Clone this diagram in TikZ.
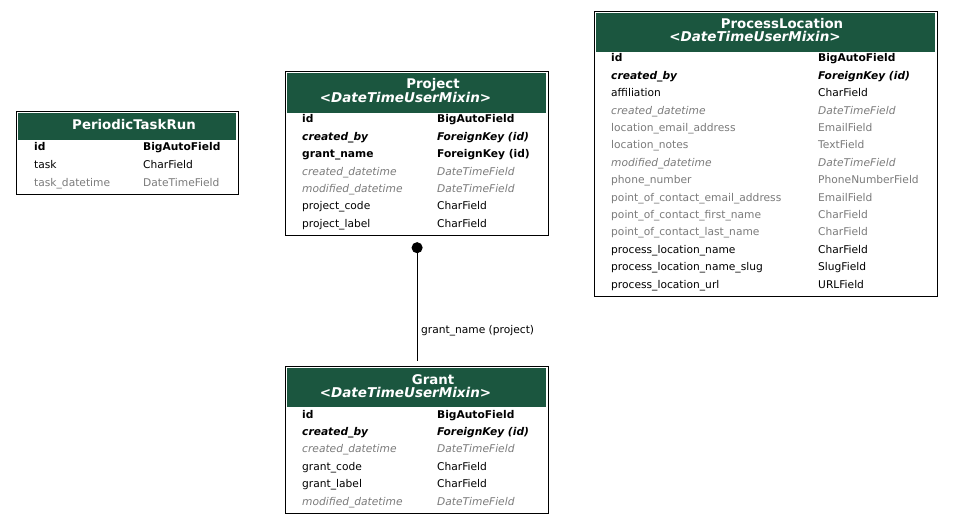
\documentclass[tikz,border=0pt]{standalone}
\usepackage{fontspec}
\setmainfont{DejaVu Sans}
\usetikzlibrary{arrows.meta}
\definecolor{hdgreen}{HTML}{1B563F}
\definecolor{inhgrey}{HTML}{7B7B7B}

\begin{document}
\begin{tikzpicture}
[every node/.style={inner sep=0pt},
 box/.style={draw=black, line width=1.2pt, fill=white, anchor=north west},
 head/.style={fill=hdgreen, anchor=north west},
 title/.style={text=white, font=\fontsize{13.33}{16}\selectfont\bfseries, anchor=base},
 mixin/.style={text=white, font=\fontsize{13.5}{16}\selectfont\bfseries\itshape, anchor=base},
 fld/.style={anchor=base west, font=\fontsize{10.67}{13}\selectfont},
 pk/.style={fld, font=\fontsize{10.67}{13}\selectfont\bfseries},
 fk/.style={fld, font=\fontsize{10.67}{13}\selectfont\bfseries\itshape},
 inh/.style={fld, text=inhgrey, font=\fontsize{10.67}{13}\selectfont\itshape},
 dim/.style={fld, text=inhgrey}]
\useasboundingbox (0pt, 0pt) rectangle (954pt, -524pt);

% PeriodicTaskRun
\node (ptr) [box, minimum width=222pt, minimum height=83pt] at (16pt, -111pt) {};
\node (ptr head) [head, minimum width=218pt, minimum height=27pt] at (18pt, -113pt) {};
\node (ptr title) [title] at (134pt, -130pt) {PeriodicTaskRun};
\node (ptr id) [pk] at (34pt, -151pt) {id};
\node (ptr id t) [pk] at (143pt, -151pt) {BigAutoField};
\node (ptr task) [fld] at (34pt, -168.5pt) {task};
\node (ptr task t) [fld] at (143pt, -168.5pt) {CharField};
\node (ptr dt) [dim] at (34pt, -186pt) {task\_datetime};
\node (ptr dt t) [dim] at (143pt, -186pt) {DateTimeField};

% Project
\node (project) [box, minimum width=263pt, minimum height=164pt] at (285pt, -71pt) {};
\node (project head) [head, minimum width=259pt, minimum height=40pt] at (287pt, -73pt) {};
\node (project title) [title] at (433pt, -89pt) {Project};
\node (project mixin) [mixin] at (405.5pt, -102.5pt) {<DateTimeUserMixin>};
\node (project id) [pk] at (302pt, -123pt) {id};
\node (project id t) [pk] at (437pt, -123pt) {BigAutoField};
\node (project cb) [fk] at (302pt, -140.4pt) {created\_by};
\node (project cb t) [fk] at (437pt, -140.4pt) {ForeignKey (id)};
\node (project gn) [pk] at (302pt, -157.8pt) {grant\_name};
\node (project gn t) [pk] at (437pt, -157.8pt) {ForeignKey (id)};
\node (project cd) [inh] at (302pt, -175.2pt) {created\_datetime};
\node (project cd t) [inh] at (437pt, -175.2pt) {DateTimeField};
\node (project md) [inh] at (302pt, -192.6pt) {modified\_datetime};
\node (project md t) [inh] at (437pt, -192.6pt) {DateTimeField};
\node (project pc) [fld] at (302pt, -210pt) {project\_code};
\node (project pc t) [fld] at (437pt, -210pt) {CharField};
\node (project pl) [fld] at (302pt, -227.4pt) {project\_label};
\node (project pl t) [fld] at (437pt, -227.4pt) {CharField};

% ProcessLocation
\node (ploc) [box, minimum width=343pt, minimum height=285pt] at (594pt, -11pt) {};
\node (ploc head) [head, minimum width=339pt, minimum height=39pt] at (596pt, -13pt) {};
\node (ploc title) [title] at (782pt, -28.5pt) {ProcessLocation};
\node (ploc mixin) [mixin] at (755pt, -42pt) {<DateTimeUserMixin>};
\node (ploc id) [pk] at (611pt, -62pt) {id};
\node (ploc id t) [pk] at (818pt, -62pt) {BigAutoField};
\node (ploc cb) [fk] at (611pt, -79.4pt) {created\_by};
\node (ploc cb t) [fk] at (818pt, -79.4pt) {ForeignKey (id)};
\node (ploc af) [fld] at (611pt, -96.8pt) {affiliation};
\node (ploc af t) [fld] at (818pt, -96.8pt) {CharField};
\node (ploc cd) [inh] at (611pt, -114.2pt) {created\_datetime};
\node (ploc cd t) [inh] at (818pt, -114.2pt) {DateTimeField};
\node (ploc le) [dim] at (611pt, -131.6pt) {location\_email\_address};
\node (ploc le t) [dim] at (818pt, -131.6pt) {EmailField};
\node (ploc ln) [dim] at (611pt, -149pt) {location\_notes};
\node (ploc ln t) [dim] at (818pt, -149pt) {TextField};
\node (ploc md) [inh] at (611pt, -166.4pt) {modified\_datetime};
\node (ploc md t) [inh] at (818pt, -166.4pt) {DateTimeField};
\node (ploc ph) [dim] at (611pt, -183.8pt) {phone\_number};
\node (ploc ph t) [dim] at (818pt, -183.8pt) {PhoneNumberField};
\node (ploc pe) [dim] at (611pt, -201.2pt) {point\_of\_contact\_email\_address};
\node (ploc pe t) [dim] at (818pt, -201.2pt) {EmailField};
\node (ploc pf) [dim] at (611pt, -218.6pt) {point\_of\_contact\_first\_name};
\node (ploc pf t) [dim] at (818pt, -218.6pt) {CharField};
\node (ploc plast) [dim] at (611pt, -236pt) {point\_of\_contact\_last\_name};
\node (ploc plast t) [dim] at (818pt, -236pt) {CharField};
\node (ploc pn) [fld] at (611pt, -253.4pt) {process\_location\_name};
\node (ploc pn t) [fld] at (818pt, -253.4pt) {CharField};
\node (ploc ps) [fld] at (611pt, -270.8pt) {process\_location\_name\_slug};
\node (ploc ps t) [fld] at (818pt, -270.8pt) {SlugField};
\node (ploc pu) [fld] at (611pt, -288.2pt) {process\_location\_url};
\node (ploc pu t) [fld] at (818pt, -288.2pt) {URLField};

% Grant
\node (grant) [box, minimum width=263pt, minimum height=147pt] at (285pt, -366pt) {};
\node (grant head) [head, minimum width=259pt, minimum height=39pt] at (287pt, -368pt) {};
\node (grant title) [title] at (433pt, -384pt) {Grant};
\node (grant mixin) [mixin] at (405.5pt, -397.5pt) {<DateTimeUserMixin>};
\node (grant id) [pk] at (302pt, -418pt) {id};
\node (grant id t) [pk] at (437pt, -418pt) {BigAutoField};
\node (grant cb) [fk] at (302pt, -435.4pt) {created\_by};
\node (grant cb t) [fk] at (437pt, -435.4pt) {ForeignKey (id)};
\node (grant cd) [inh] at (302pt, -452.8pt) {created\_datetime};
\node (grant cd t) [inh] at (437pt, -452.8pt) {DateTimeField};
\node (grant gc) [fld] at (302pt, -470.2pt) {grant\_code};
\node (grant gc t) [fld] at (437pt, -470.2pt) {CharField};
\node (grant gl) [fld] at (302pt, -487.6pt) {grant\_label};
\node (grant gl t) [fld] at (437pt, -487.6pt) {CharField};
\node (grant md) [inh] at (302pt, -505pt) {modified\_datetime};
\node (grant md t) [inh] at (437pt, -505pt) {DateTimeField};

% relation
\draw [line width=1pt, {Circle[length=11pt]}-, shorten <=6pt, shorten >=5pt, color=black] (project) to node [pos=0.73, anchor=west, xshift=3.5pt, font=\fontsize{10.67}{13}\selectfont] {grant\_name (project)} (grant);
\end{tikzpicture}
\end{document}
